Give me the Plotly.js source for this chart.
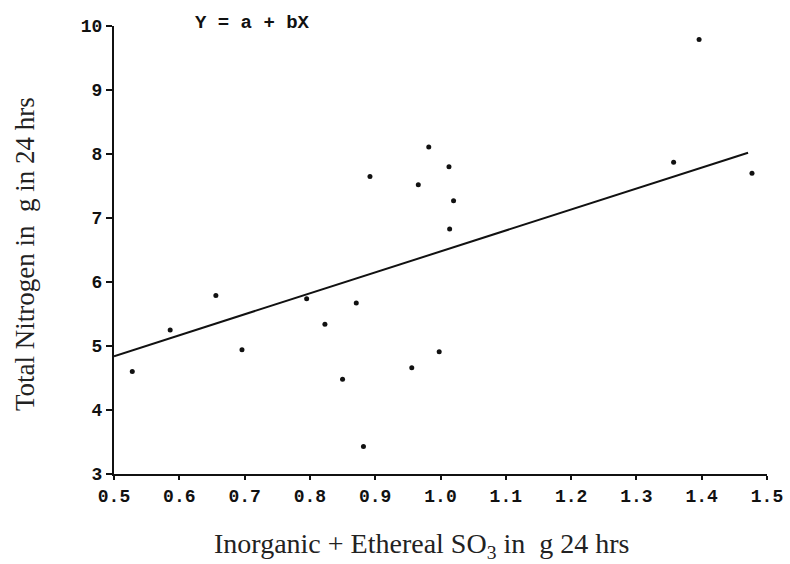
<!DOCTYPE html>
<html>
<head>
<meta charset="utf-8">
<script src="https://cdn.plot.ly/plotly-3.0.1.min.js"></script>
<style>html,body{margin:0;padding:0;background:#fff;}#chart{width:790px;height:564px;}</style>
</head>
<body>
<div id="chart"></div>
<script>
// Scatter points: Inorganic + Ethereal SO3 (g/24 hrs) vs Total Nitrogen (g/24 hrs)
const so3 = [0.528, 0.586, 0.656, 0.696, 0.795, 0.823, 0.850, 0.871, 0.882, 0.956, 0.998, 0.892, 0.966, 0.982, 1.013, 1.014, 1.020, 1.357, 1.396, 1.477];
const nitrogen = [4.60, 5.25, 5.79, 4.94, 5.74, 5.34, 4.48, 5.67, 3.43, 4.66, 4.91, 7.65, 7.52, 8.11, 7.80, 6.83, 7.27, 7.87, 9.79, 7.70];

// Regression line endpoints (Y = a + bX)
const lineX = [0.5, 1.471];
const lineY = [4.84, 8.02];

// Tick labels
const xTickVals = [0.5, 0.6, 0.7, 0.8, 0.9, 1.0, 1.1, 1.2, 1.3, 1.4, 1.5];
const xTickText = ["0.5", "0.6", "0.7", "0.8", "0.9", "1.0", "1.1", "1.2", "1.3", "1.4", "1.5"];
const yTickVals = [3, 4, 5, 6, 7, 8, 9, 10];
const yTickText = ["3", "4", "5", "6", "7", "8", "9", "10"];

// Text
const xTitle = "Inorganic + Ethereal SO<sub>3</sub> in  g 24 hrs";
const yTitle = "Total Nitrogen in  g in 24 hrs";
const equation = "Y = a + bX";

const monoFont = {family: "Liberation Mono, Courier New, monospace", size: 18, color: "#111", weight: "bold"};

const L = 114, R = 23, T = 26, B = 90, W = 790, H = 564;
const pw = W - L - R, ph = H - T - B;

const traces = [
  {
    x: lineX, y: lineY, type: "scatter", mode: "lines",
    line: {color: "#111", width: 2}, hoverinfo: "skip", showlegend: false
  },
  {
    x: so3, y: nitrogen, type: "scatter", mode: "markers",
    marker: {color: "#111", size: 5}, showlegend: false
  }
];

const layout = {
  width: W, height: H,
  margin: {l: L, r: R, t: T, b: B},
  paper_bgcolor: "#fff", plot_bgcolor: "#fff",
  showlegend: false,
  xaxis: {
    range: [0.5, 1.5], tickvals: xTickVals, ticktext: xTickText,
    ticks: "outside", ticklen: 4, tickwidth: 2, tickcolor: "#111",
    showline: true, linecolor: "#111", linewidth: 2, mirror: false,
    showgrid: false, zeroline: false, tickfont: monoFont,
    automargin: false
  },
  yaxis: {
    range: [3, 10], tickvals: yTickVals, ticktext: yTickText,
    ticks: "outside", ticklen: 6, tickwidth: 2, tickcolor: "#111",
    showline: true, linecolor: "#111", linewidth: 2, mirror: false,
    showgrid: false, zeroline: false, tickfont: monoFont,
    automargin: false
  },
  annotations: [
    {
      text: equation, xref: "paper", yref: "paper",
      x: (193 - L) / pw, y: (H - B - 23) / ph, xanchor: "left", yanchor: "middle",
      showarrow: false, font: {family: "Liberation Mono, Courier New, monospace", size: 19, color: "#111", weight: "bold"}
    },
    {
      text: xTitle, xref: "paper", yref: "paper",
      x: (421 - L) / pw, y: (H - B - 545) / ph, xanchor: "center", yanchor: "middle",
      showarrow: false, font: {family: "Liberation Serif, Times New Roman, serif", size: 28, color: "#222"}
    },
    {
      text: yTitle, xref: "paper", yref: "paper", textangle: -90,
      x: (25 - L) / pw, y: (H - B - 254) / ph, xanchor: "center", yanchor: "middle",
      showarrow: false, font: {family: "Liberation Serif, Times New Roman, serif", size: 27, color: "#222"}
    }
  ]
};

Plotly.newPlot("chart", traces, layout, {staticPlot: true, displayModeBar: false});
</script>
</body>
</html>
